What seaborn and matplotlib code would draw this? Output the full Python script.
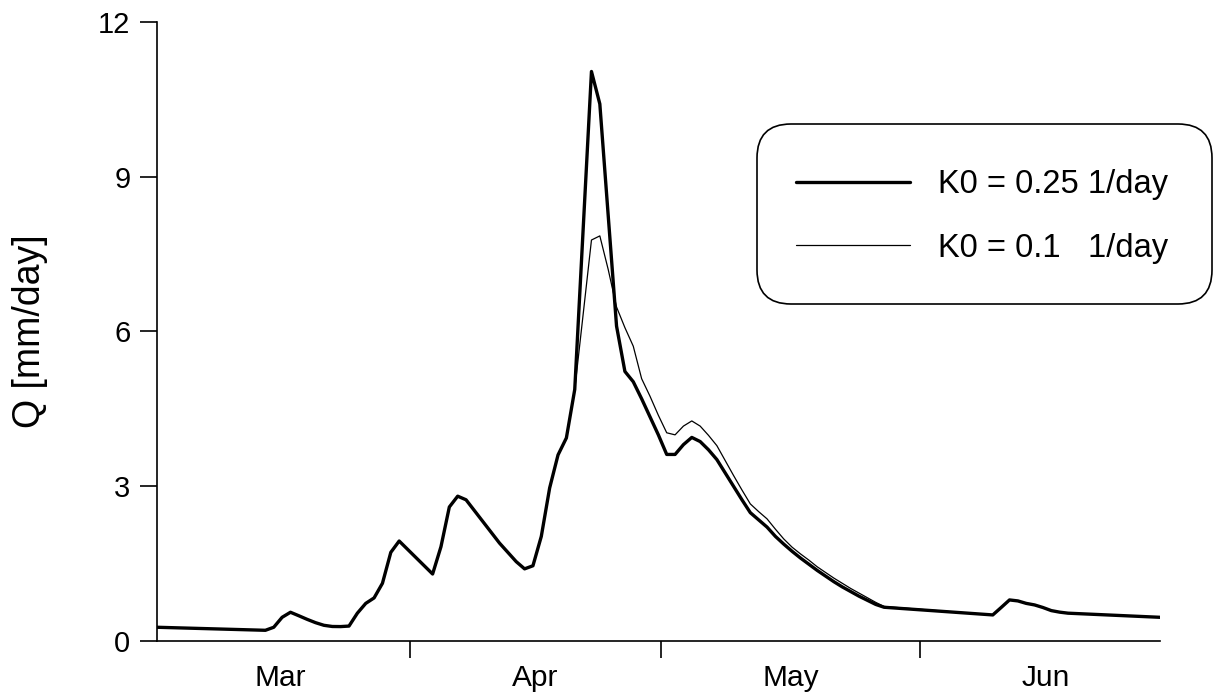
import numpy as np
import pandas as pd
import matplotlib
matplotlib.use("Agg")
import matplotlib.pyplot as plt
import seaborn as sns
from matplotlib.lines import Line2D
from matplotlib.patches import FancyBboxPatch

# ---- data (day index from 1 March, observation at ~17:00) ----
day_index = [0, 13, 14, 15, 16, 17, 18, 19, 20, 21, 22, 23, 24, 25, 26, 27, 28, 29,
             30, 31, 32, 33, 34, 35, 36, 37, 38, 39, 40, 41, 42, 43, 44, 45, 46, 47,
             48, 49, 50, 51, 52, 53, 54, 55, 56, 57, 58, 59, 60, 61, 62, 63, 64, 65,
             66, 67, 68, 69, 70, 71, 72, 73, 74, 75, 76, 77, 78, 79, 80, 81, 82, 83,
             84, 85, 86, 87, 100, 101, 102, 103, 104, 105, 106, 107, 108, 109, 120]

q_k025 = [0.257, 0.198, 0.257, 0.45, 0.548, 0.48, 0.41, 0.346, 0.295, 0.272, 0.27, 0.28,
          0.53, 0.72, 0.826, 1.11, 1.71, 1.93,
          1.77, 1.61, 1.45, 1.29, 1.82, 2.59, 2.80, 2.73, 2.52, 2.31, 2.10, 1.89, 1.71,
          1.53, 1.39, 1.45, 2.02, 2.96,
          3.60, 3.93, 4.87, 7.96, 11.04, 10.41, 8.25, 6.10, 5.22, 5.02, 4.69, 4.34, 3.99,
          3.61, 3.61, 3.80, 3.94, 3.86,
          3.70, 3.51, 3.25, 2.99, 2.73, 2.48, 2.34, 2.20, 2.02, 1.87, 1.73, 1.60, 1.48,
          1.36, 1.25, 1.14, 1.04, 0.95,
          0.86, 0.78, 0.70, 0.645, 0.496, 0.64, 0.787, 0.768, 0.72, 0.69, 0.64, 0.58,
          0.55, 0.53, 0.45]

q_k010 = [0.257, 0.198, 0.257, 0.45, 0.548, 0.48, 0.41, 0.346, 0.295, 0.272, 0.27, 0.28,
          0.53, 0.72, 0.826, 1.11, 1.71, 1.93,
          1.77, 1.61, 1.45, 1.29, 1.82, 2.59, 2.80, 2.73, 2.52, 2.31, 2.10, 1.89, 1.71,
          1.53, 1.39, 1.45, 2.02, 2.96,
          3.60, 3.93, 4.87, 6.32, 7.77, 7.85, 7.20, 6.47, 6.07, 5.71, 5.08, 4.74, 4.37,
          4.03, 3.99, 4.16, 4.26, 4.16,
          3.98, 3.78, 3.49, 3.20, 2.92, 2.65, 2.50, 2.36, 2.16, 1.97, 1.81, 1.68, 1.56,
          1.43, 1.32, 1.21, 1.11, 1.01,
          0.92, 0.83, 0.74, 0.66, 0.496, 0.64, 0.787, 0.768, 0.72, 0.69, 0.64, 0.58,
          0.55, 0.53, 0.45]

series_labels = ["K0 = 0.25 1/day", "K0 = 0.1   1/day"]
month_names = ["Mar", "Apr", "May", "Jun"]
month_starts = [0, 31, 61, 92, 122]   # days from 1 March
obs_hour = 17
y_ticks = [0, 3, 6, 9, 12]

x = np.array(day_index) + obs_hour / 24.0
df = pd.concat([
    pd.DataFrame({"day": x, "Q": q_k025, "series": series_labels[0]}),
    pd.DataFrame({"day": x, "Q": q_k010, "series": series_labels[1]}),
])

sns.set_theme(style="ticks")
plt.rcParams["font.family"] = ["Liberation Sans", "DejaVu Sans"]
plt.rcParams["text.color"] = "black"

W, H = 1214, 695
fig = plt.figure(figsize=(W / 100, H / 100), dpi=100)
ax = fig.add_axes([156.7 / W, 1 - 640.5 / H, (1160 - 156.7) / W, (640.5 - 22) / H])

thick_lw, thin_lw = 2.4, 0.9
sns.lineplot(data=df[df.series == series_labels[0]], x="day", y="Q", color="black",
             linewidth=thick_lw, ax=ax, legend=False, estimator=None, sort=False)
sns.lineplot(data=df[df.series == series_labels[1]], x="day", y="Q", color="black",
             linewidth=thin_lw, ax=ax, legend=False, estimator=None, sort=False)

ax.set_xlim(x[0], x[-1])
ax.set_ylim(0, 12)
ax.set_yticks(y_ticks)
ax.set_yticklabels([str(v) for v in y_ticks])

inside = [m for m in month_starts if x[0] < m < x[-1]]
ax.set_xticks(inside)
ax.set_xticklabels([""] * len(inside))
centers = [(month_starts[i] + month_starts[i + 1]) / 2 for i in range(len(month_names))]
ax.set_xticks(centers, minor=True)
ax.set_xticklabels(month_names, minor=True)

for s in ["top", "right"]:
    ax.spines[s].set_visible(False)
for s in ["left", "bottom"]:
    ax.spines[s].set_color("black")
    ax.spines[s].set_linewidth(1.2)

ax.tick_params(axis="y", which="major", length=12, width=1.2, color="black",
               direction="out", pad=7, labelsize=21, labelcolor="black")
ax.tick_params(axis="x", which="major", length=12, width=1.2, color="black",
               direction="out")
ax.tick_params(axis="x", which="minor", length=0, pad=17, labelsize=21.5,
               labelcolor="black")

ax.set_xlabel("")
ax.set_ylabel("Q [mm/day]", fontsize=27, color="black")
ax.yaxis.set_label_coords(-0.108, 0.5)
ax.grid(False)

# legend frame (rounded box) drawn in figure pixels
box_l, box_t, box_r, box_b = 757, 124, 1212, 304
frame = FancyBboxPatch((box_l / W, 1 - box_b / H), (box_r - box_l) / W, (box_b - box_t) / H,
                       boxstyle="round,pad=0,rounding_size=0.028",
                       transform=fig.transFigure, facecolor="white", edgecolor="black",
                       linewidth=1.2, zorder=5)
frame.set_mutation_aspect(W / H)
fig.add_artist(frame)

handles = [Line2D([], [], color="black", linewidth=thick_lw),
           Line2D([], [], color="black", linewidth=thin_lw)]
leg = fig.legend(handles, series_labels, loc="upper left",
                 bbox_to_anchor=(757 / W, 1 - 130 / H),
                 bbox_transform=fig.transFigure, fontsize=23.5, frameon=False,
                 handlelength=3.5, handletextpad=0.85,
                 borderpad=1.2, labelspacing=1.0, borderaxespad=0,
                 labelcolor="black")
leg.set_zorder(6)

fig.savefig("out.png", dpi=100)
